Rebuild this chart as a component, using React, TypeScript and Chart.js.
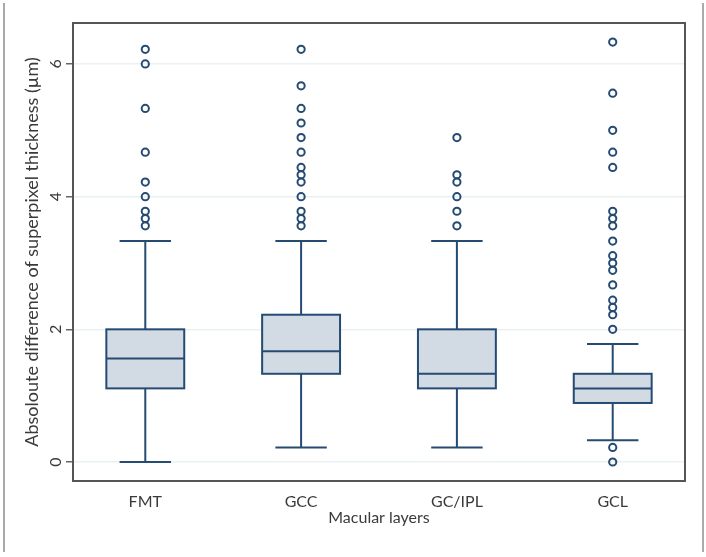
import React, { useEffect, useRef } from "react";
import { Chart, registerables } from "chart.js";

Chart.register(...registerables);

const categories = ["FMT", "GCC", "GC/IPL", "GCL"];
const q1 = [1.11, 1.33, 1.11, 0.89];
const medians = [1.56, 1.67, 1.33, 1.11];
const q3 = [2.0, 2.22, 2.0, 1.33];
const whiskerLow = [0, 0.22, 0.22, 0.33];
const whiskerHigh = [3.33, 3.33, 3.33, 1.78];
const outliersFMT = [3.56, 3.67, 3.78, 4.0, 4.22, 4.67, 5.33, 6.0, 6.22];
const outliersGCC = [3.56, 3.67, 3.78, 4.0, 4.22, 4.33, 4.44, 4.67, 4.89, 5.11, 5.33, 5.67, 6.22];
const outliersGCIPL = [3.56, 3.78, 4.0, 4.22, 4.33, 4.89];
const outliersGCL = [0, 0.22, 2.0, 2.22, 2.33, 2.44, 2.67, 2.89, 3.0, 3.11, 3.33, 3.56, 3.67, 3.78, 4.44, 4.67, 5.0, 5.56, 6.33];
const yTicks = [0, 2, 4, 6];

const outlierLists = [outliersFMT, outliersGCC, outliersGCIPL, outliersGCL];

const NAVY = "#254b73";
const FILL = "#d2dae3";
const FONT = "Lato, 'Open Sans', sans-serif";
const TEXT = "#3a3a3a";

const boxPlugin = {
  id: "boxes",
  beforeDatasetsDraw(chart: any) {
    const { ctx, scales } = chart;
    const x = scales.x;
    const y = scales.y;
    ctx.save();
    ctx.strokeStyle = NAVY;
    ctx.lineWidth = 2;
    for (let i = 0; i < categories.length; i++) {
      const c = x.getPixelForValue(i + 1);
      const l = x.getPixelForValue(i + 1 - 0.25);
      const r = x.getPixelForValue(i + 1 + 0.25);
      const cl = x.getPixelForValue(i + 1 - 0.165);
      const cr = x.getPixelForValue(i + 1 + 0.165);
      const yq1 = y.getPixelForValue(q1[i]);
      const yq3 = y.getPixelForValue(q3[i]);
      const ym = y.getPixelForValue(medians[i]);
      const ylo = y.getPixelForValue(whiskerLow[i]);
      const yhi = y.getPixelForValue(whiskerHigh[i]);
      ctx.beginPath();
      ctx.moveTo(c, yq3);
      ctx.lineTo(c, yhi);
      ctx.moveTo(cl, yhi);
      ctx.lineTo(cr, yhi);
      ctx.moveTo(c, yq1);
      ctx.lineTo(c, ylo);
      ctx.moveTo(cl, ylo);
      ctx.lineTo(cr, ylo);
      ctx.stroke();
      ctx.fillStyle = FILL;
      ctx.fillRect(l, yq3, r - l, yq1 - yq3);
      ctx.strokeRect(l, yq3, r - l, yq1 - yq3);
      ctx.beginPath();
      ctx.moveTo(l, ym);
      ctx.lineTo(r, ym);
      ctx.stroke();
    }
    ctx.restore();
  },
  afterDraw(chart: any) {
    const { ctx, chartArea, scales } = chart;
    const y = scales.y;
    ctx.save();
    ctx.fillStyle = TEXT;
    ctx.font = `16px ${FONT}`;
    ctx.textAlign = "center";
    ctx.textBaseline = "middle";
    for (const v of yTicks) {
      const py = y.getPixelForValue(v);
      ctx.save();
      ctx.translate(chartArea.left - 17, py);
      ctx.rotate(-Math.PI / 2);
      ctx.fillText(String(v), 0, 0);
      ctx.restore();
    }
    ctx.strokeStyle = "#555555";
    ctx.lineWidth = 2;
    ctx.strokeRect(chartArea.left, chartArea.top, chartArea.right - chartArea.left, chartArea.bottom - chartArea.top);
    ctx.restore();
  },
};

export default function App() {
  const ref = useRef<HTMLCanvasElement | null>(null);
  useEffect(() => {
    if (!ref.current) return;
    const points: { x: number; y: number }[] = [];
    outlierLists.forEach((list, i) => {
      list.forEach((v) => points.push({ x: i + 1, y: v }));
    });
    const chart = new Chart(ref.current, {
      type: "scatter",
      data: {
        datasets: [
          {
            label: "Outliers",
            data: points,
            pointStyle: "circle",
            pointRadius: 3.6,
            pointBorderWidth: 2,
            pointBorderColor: NAVY,
            pointBackgroundColor: "rgba(255,255,255,0)",
          } as any,
        ],
      },
      options: {
        responsive: false,
        animation: false,
        events: [],
        layout: { padding: { left: 17, top: 23, right: 21, bottom: 31 } },
        plugins: { legend: { display: false }, tooltip: { enabled: false } },
        scales: {
          x: {
            type: "linear",
            min: 0.536,
            max: 4.464,
            afterBuildTicks: (scale: any) => {
              scale.ticks = categories.map((_, i) => ({ value: i + 1 }));
            },
            grid: { display: false, drawTicks: false },
            border: { display: false },
            ticks: {
              autoSkip: false,
              maxRotation: 0,
              padding: 13,
              color: TEXT,
              font: { family: FONT, size: 16, lineHeight: 1 },
              callback: (v: any) => categories[Math.round(Number(v)) - 1] ?? "",
            },
            title: {
              display: true,
              text: "Macular layers",
              color: TEXT,
              font: { family: FONT, size: 16, lineHeight: 1 },
              padding: { top: -13, bottom: 0 },
            },
          },
          y: {
            type: "linear",
            min: -0.286,
            max: 6.617,
            afterBuildTicks: (scale: any) => {
              scale.ticks = yTicks.map((v) => ({ value: v }));
            },
            grid: {
              color: "#e9f1f2",
              lineWidth: 1.5,
              drawTicks: true,
              tickLength: 7,
              tickColor: "#666666",
              tickWidth: 1.5,
            },
            border: { display: false },
            ticks: { display: false },
            title: {
              display: true,
              text: "Absoloute difference of superpixel thickness (µm)",
              color: TEXT,
              font: { family: FONT, size: 18, lineHeight: 1.2 },
              padding: { top: 4, bottom: 23.4 },
            },
          },
        },
      },
      plugins: [boxPlugin],
    } as any);
    return () => chart.destroy();
  }, []);

  return (
    <div style={{ position: "fixed", left: 0, top: 0, width: 706, height: 557, background: "#fff" }}>
      <div
        style={{
          position: "absolute",
          left: 3,
          top: 3,
          width: 697,
          height: 549,
          borderLeft: "2px solid #aaaaaa",
          borderRight: "2px solid #aaaaaa",
          boxSizing: "content-box",
        }}
      />
      <canvas ref={ref} width={706} height={557} style={{ position: "absolute", left: 0, top: 0 }} />
    </div>
  );
}
